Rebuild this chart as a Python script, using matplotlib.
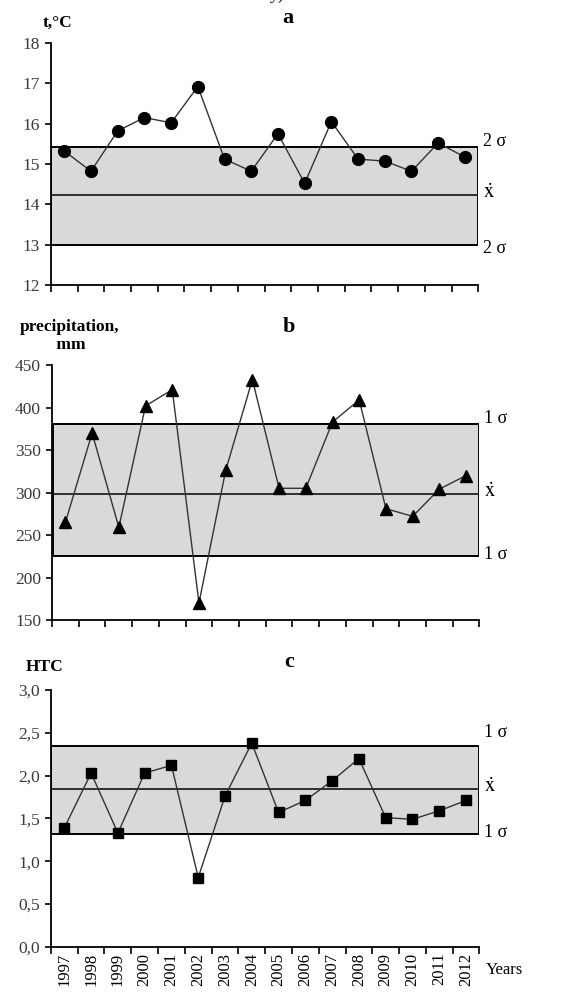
import matplotlib
matplotlib.use("Agg")
import matplotlib.pyplot as plt
from matplotlib.patches import Rectangle
import numpy as np

plt.rcParams['font.family'] = ['Liberation Serif', 'DejaVu Serif']
plt.rcParams['mathtext.fontset'] = 'stix'

years = [str(y) for y in range(1997, 2013)]

# panel a: air temperature
temp = [15.32, 14.82, 15.82, 16.15, 16.02, 16.92, 15.12, 14.82,
        15.75, 14.52, 16.05, 15.12, 15.07, 14.82, 15.52, 15.17]
temp_band = (13.0, 14.22, 15.42)   # lower, mean, upper

# panel b: precipitation
prec = [265, 370, 259, 402, 421, 170, 326, 433,
        305, 305, 383, 409, 281, 272, 304, 320]
prec_band = (225, 298, 381)

# panel c: hydrothermal coefficient
htc = [1.39, 2.03, 1.33, 2.03, 2.12, 0.81, 1.76, 2.38,
       1.57, 1.71, 1.94, 2.20, 1.51, 1.49, 1.59, 1.71]
htc_band = (1.32, 1.84, 2.35)

# sig_off: (pixels above upper edge, pixels below lower edge)
panels = [
    dict(vals=temp, band=temp_band, ylim=(12, 18), yticks=[12, 13, 14, 15, 16, 17, 18],
         fmt=lambda v: '%d' % v, marker='o', ms=8.5, title='a', ylab='t,°C',
         sig='2 σ', rect=[0.090, 0.7153, 0.755, 0.2418],
         sig_off=(6, 4), title_off=25, ylab_pos=(0.016, 12)),
    dict(vals=prec, band=prec_band, ylim=(150, 450), yticks=[150, 200, 250, 300, 350, 400, 450],
         fmt=lambda v: '%d' % v, marker='^', ms=8.5, title='b', ylab='precipitation,\n mm',
         sig='1 σ', rect=[0.092, 0.3806, 0.755, 0.2547],
         sig_off=(5, -2), title_off=38, ylab_pos=(0.04, 12)),
    dict(vals=htc, band=htc_band, ylim=(0, 3), yticks=[0, 0.5, 1, 1.5, 2, 2.5, 3],
         fmt=lambda v: ('%.1f' % v).replace('.', ','), marker='s', ms=7, title='c', ylab='HTC',
         sig='1 σ', rect=[0.090, 0.054, 0.757, 0.2567],
         sig_off=(13, -1), title_off=28, ylab_pos=(-0.016, 15)),
]

fig = plt.figure(figsize=(5.66, 10.01), dpi=100, facecolor='white')
fig.text(0.49, 1.006, 'у)', ha='center', va='center', fontsize=13)

n = len(years)
x = np.arange(n) + 0.5

for p in panels:
    ax = fig.add_axes(p['rect'])
    lo, mean, hi = p['band']
    ax.add_patch(Rectangle((0.02, lo), n - 0.04, hi - lo, facecolor='#d9d9d9',
                           edgecolor='black', linewidth=1.4, zorder=1))
    ax.plot([0.02, n - 0.02], [mean, mean], color='#222222', linewidth=1.3, zorder=2)
    ax.plot(x, p['vals'], color='#333333', linewidth=1.0, marker=p['marker'],
            ms=p['ms'], mfc='black', mec='black', zorder=3, clip_on=False)

    ax.set_xlim(0, n)
    ax.set_ylim(*p['ylim'])
    ax.set_yticks(p['yticks'])
    ax.set_yticklabels([p['fmt'](v) for v in p['yticks']], color='#3a3a3a', fontsize=12.5)
    ax.set_xticks(np.arange(n + 1))
    ax.tick_params(axis='x', which='major', length=5, width=1.2, labelbottom=False)
    ax.tick_params(axis='y', length=4, width=1.2, pad=4)
    for s in ['top', 'right']:
        ax.spines[s].set_visible(False)
    for s in ['left', 'bottom']:
        ax.spines[s].set_linewidth(1.3)

    up, down = p['sig_off']
    ax.annotate(p['sig'], (n, hi), xytext=(5, up), textcoords='offset pixels',
                ha='left', va='center', fontsize=13, annotation_clip=False)
    ax.annotate(r'$\dot{\mathrm{x}}$', (n, mean), xytext=(5, 2), textcoords='offset pixels',
                ha='left', va='center', fontsize=15, annotation_clip=False)
    ax.annotate(p['sig'], (n, lo), xytext=(5, -down), textcoords='offset pixels',
                ha='left', va='center', fontsize=13, annotation_clip=False)

    ax.annotate(p['title'], (0.555, 1), xycoords='axes fraction', xytext=(0, p['title_off']),
                textcoords='offset pixels', ha='center', va='center',
                fontsize=16, fontweight='bold')
    ax.annotate(p['ylab'], (p['ylab_pos'][0], 1), xycoords='axes fraction',
                xytext=(0, p['ylab_pos'][1]), textcoords='offset pixels',
                ha='center', va='bottom', fontsize=12.5, fontweight='bold', linespacing=1.2)

    if p['title'] == 'c':
        ax.set_xticks(x, minor=True)
        ax.set_xticklabels(years, minor=True, rotation=90, fontsize=12)
        ax.tick_params(axis='x', which='minor', length=0, pad=4, labelbottom=True)
        ax.text(n + 0.25, -0.09, 'Years', transform=ax.get_xaxis_transform(),
                ha='left', va='center', fontsize=12)

fig.savefig('out.png', dpi=100, facecolor='white')
